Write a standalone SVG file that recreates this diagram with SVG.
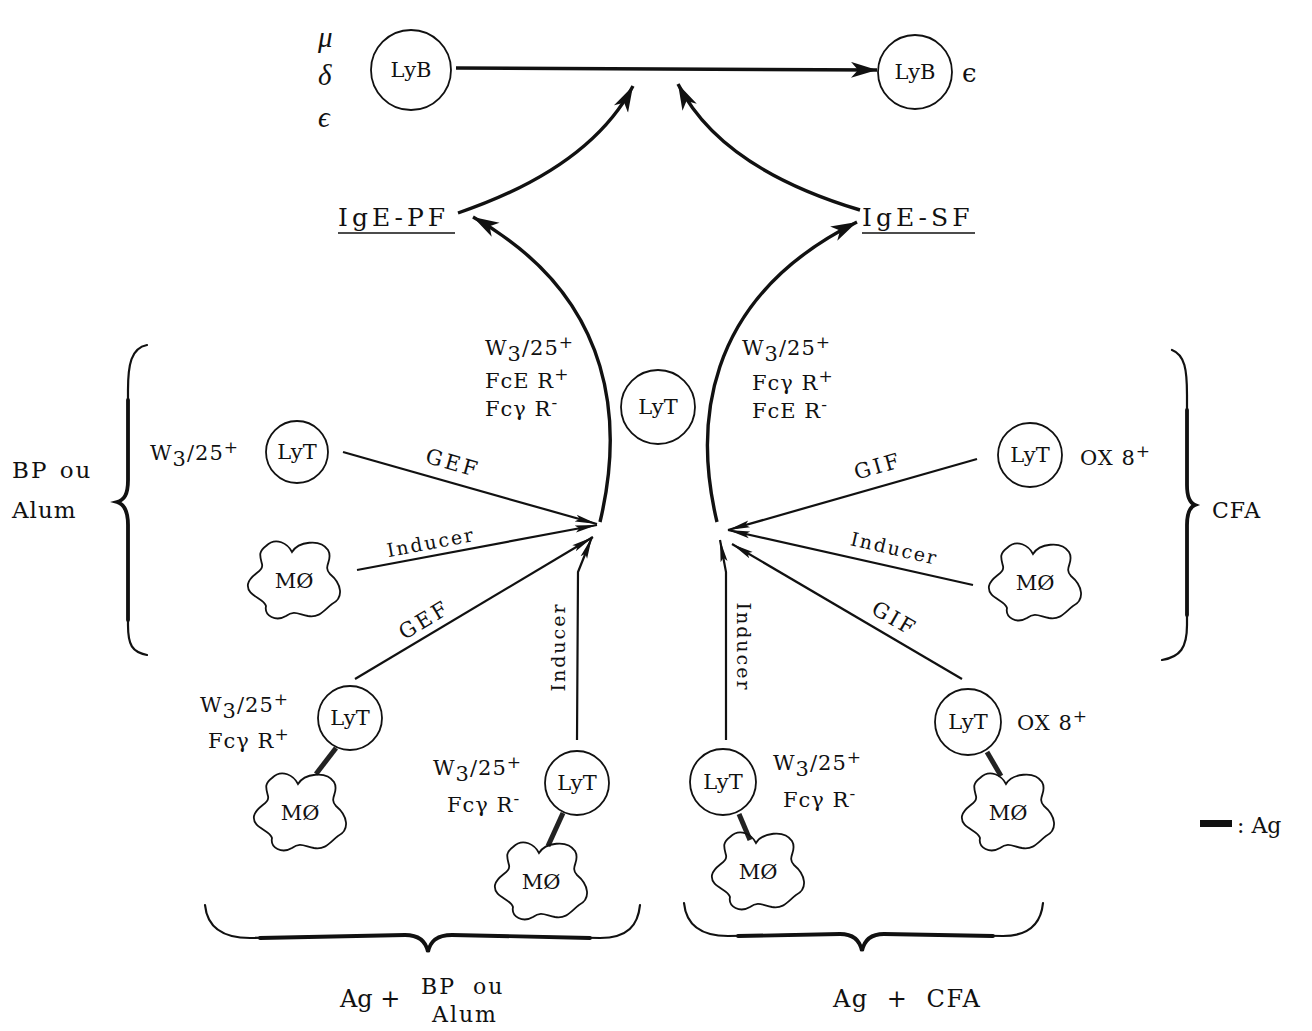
<svg xmlns="http://www.w3.org/2000/svg" width="1312" height="1031" viewBox="0 0 1312 1031">
  <style>
    text { font-family: "DejaVu Serif", "Liberation Serif", serif; fill: #111; }
    .cell { fill: none; stroke: #111; stroke-width: 1.8; }
    .blob { fill: none; stroke: #111; stroke-width: 1.8; }
    .lbl { font-size: 21px; text-anchor: middle; }
    .in { font-size: 19px; letter-spacing: 2px; text-anchor: middle; }
    .fx { font-size: 21px; letter-spacing: 3px; text-anchor: middle; }
    .mark { font-size: 21px; letter-spacing: 1px; }
    .greek { font-size: 29px; font-style: italic; font-family: "Liberation Serif", "DejaVu Serif", serif; }
    .line { fill: none; stroke: #111; stroke-width: 2.2; }
    .heavy { fill: none; stroke: #111; stroke-width: 3.4; }
    .brace { fill: none; stroke: #111; stroke-width: 2.2; stroke-linecap: round; }
    .brace-mid { fill: none; stroke: #111; stroke-width: 3.8; stroke-linecap: round; }
    .ag { stroke: #222; stroke-width: 5; stroke-linecap: butt; }
  </style>
  <defs>
    <marker id="head" markerUnits="userSpaceOnUse" markerWidth="30" markerHeight="18" refX="26" refY="8" orient="auto">
      <path d="M0,0 L26,8 L0,16 L7,8 z" fill="#111"/>
    </marker>
    <marker id="tip" markerUnits="userSpaceOnUse" markerWidth="24" markerHeight="10" refX="22" refY="4.5" orient="auto">
      <path d="M0,1 L22,4.5 L0,8 L4,4.5 z" fill="#111"/>
    </marker>
    <path id="mo" d="M -28,-34 C -18,-44 -6,-36 -2,-28 C 4,-38 26,-42 34,-30 C 40,-20 28,-14 36,-6 C 48,4 50,18 38,24 C 30,30 26,38 14,36 C 4,34 0,30 -8,36 C -18,42 -30,36 -28,26 C -30,18 -48,16 -46,4 C -44,-6 -30,-8 -32,-16 C -34,-24 -36,-28 -28,-34 Z"/>
  </defs>

  <!-- connectors -->
  <g id="connectors">
    <!-- LyB switch -->
    <path class="heavy" d="M 456 68 L 877 70" stroke-width="3" marker-end="url(#head)"/>
    <!-- factors acting on the switch -->
    <path class="heavy" d="M 458 213 Q 590 168 633 86" marker-end="url(#head)"/>
    <path class="heavy" d="M 860 210 Q 720 168 678 84" marker-end="url(#head)"/>
    <!-- central LyT producing IgE-PF / IgE-SF -->
    <path class="heavy" d="M 600 522 C 622 430 620 300 473 217" marker-end="url(#head)"/>
    <path class="heavy" d="M 717 522 C 695 430 700 300 857 222" marker-end="url(#head)"/>
    <!-- left inputs -->
    <path class="line" d="M 343 452 L 597 524" marker-end="url(#tip)"/>
    <path class="line" d="M 357 570 L 597 525" marker-end="url(#tip)"/>
    <path class="line" d="M 355 679 L 593 537" marker-end="url(#tip)"/>
    <path class="line" d="M 577 740 L 578 572 L 592 537" marker-end="url(#tip)"/>
    <!-- right inputs -->
    <path class="line" d="M 977 459 L 728 530" marker-end="url(#tip)"/>
    <path class="line" d="M 973 585 L 728 530" marker-end="url(#tip)"/>
    <path class="line" d="M 962 679 L 732 544" marker-end="url(#tip)"/>
    <path class="line" d="M 726 740 L 726 572 L 720 540" marker-end="url(#tip)"/>
    <!-- antigen bridges LyT–MØ -->
    <line class="ag" x1="336" y1="748" x2="316" y2="774"/>
    <line class="ag" x1="563" y1="813" x2="548" y2="846"/>
    <line class="ag" x1="739" y1="814" x2="750" y2="840"/>
    <line class="ag" x1="987" y1="752" x2="1001" y2="776"/>
  </g>

  <!-- connector labels -->
  <g id="connector-labels">
    <text class="fx" transform="translate(451,470) rotate(16)">GEF</text>
    <text class="in" transform="translate(432,549) rotate(-10.6)">Inducer</text>
    <text class="fx" transform="translate(428,626) rotate(-31)">GEF</text>
    <text class="in" transform="translate(565,647) rotate(-90)">Inducer</text>
    <text class="fx" transform="translate(880,473) rotate(-16)">GIF</text>
    <text class="in" transform="translate(893,555) rotate(13)">Inducer</text>
    <text class="fx" transform="translate(891,625) rotate(30)">GIF</text>
    <text class="in" transform="translate(737,647) rotate(90)">Inducer</text>
  </g>

  <!-- B cells -->
  <g id="lyb-left">
    <circle class="cell" cx="411" cy="70" r="40"/>
    <text class="lbl" x="411" y="77">LyB</text>
    <text class="greek" x="318" y="47">μ</text>
    <text class="greek" x="318" y="85">δ</text>
    <text class="greek" x="318" y="127">ϵ</text>
  </g>
  <g id="lyb-right">
    <circle class="cell" cx="915" cy="72" r="37"/>
    <text class="lbl" x="915" y="79">LyB</text>
    <text font-size="26" x="962" y="82" font-family="Liberation Serif, serif">ϵ</text>
  </g>

  <!-- factors -->
  <g id="ige-pf">
    <text font-size="25" x="338" y="226" letter-spacing="4">IgE-PF</text>
    <line x1="338" y1="233" x2="455" y2="233" stroke="#111" stroke-width="1.6"/>
  </g>
  <g id="ige-sf">
    <text font-size="25" x="862" y="226" letter-spacing="4">IgE-SF</text>
    <line x1="862" y1="233" x2="975" y2="233" stroke="#111" stroke-width="1.6"/>
  </g>

  <!-- central T cell -->
  <g id="lyt-center">
    <circle class="cell" cx="658" cy="407" r="37"/>
    <text class="lbl" x="658" y="414">LyT</text>
    <text class="mark" x="485" y="355">W<tspan dy="6">3</tspan><tspan dy="-6">/25</tspan><tspan dy="-7" font-size="17">+</tspan></text>
    <text class="mark" x="485" y="388">FcE  R<tspan dy="-8" font-size="17">+</tspan></text>
    <text class="mark" x="485" y="416">Fcγ R<tspan dy="-8" font-size="17">-</tspan></text>
    <text class="mark" x="742" y="355">W<tspan dy="6">3</tspan><tspan dy="-6">/25</tspan><tspan dy="-7" font-size="17">+</tspan></text>
    <text class="mark" x="752" y="390">Fcγ R<tspan dy="-8" font-size="17">+</tspan></text>
    <text class="mark" x="752" y="418">FcE R<tspan dy="-8" font-size="17">-</tspan></text>
  </g>

  <!-- left group: BP ou Alum -->
  <g id="lyt-l1">
    <circle class="cell" cx="297" cy="452" r="31"/>
    <text class="lbl" x="297" y="459">LyT</text>
    <text class="mark" x="150" y="460">W<tspan dy="6">3</tspan><tspan dy="-6">/25</tspan><tspan dy="-7" font-size="17">+</tspan></text>
  </g>
  <g id="mo-l1">
    <use href="#mo" class="blob" transform="translate(294,580)"/>
    <text class="lbl" x="294" y="588" font-size="22">MØ</text>
  </g>
  <g id="lyt-l2">
    <circle class="cell" cx="350" cy="718" r="32"/>
    <text class="lbl" x="350" y="725">LyT</text>
    <text class="mark" x="200" y="712">W<tspan dy="6">3</tspan><tspan dy="-6">/25</tspan><tspan dy="-7" font-size="17">+</tspan></text>
    <text class="mark" x="208" y="748">Fcγ R<tspan dy="-8" font-size="17">+</tspan></text>
  </g>
  <g id="mo-l2">
    <use href="#mo" class="blob" transform="translate(300,812)"/>
    <text class="lbl" x="300" y="820" font-size="22">MØ</text>
  </g>
  <g id="lyt-l3">
    <circle class="cell" cx="577" cy="783" r="32"/>
    <text class="lbl" x="577" y="790">LyT</text>
    <text class="mark" x="433" y="775">W<tspan dy="6">3</tspan><tspan dy="-6">/25</tspan><tspan dy="-7" font-size="17">+</tspan></text>
    <text class="mark" x="447" y="812">Fcγ R<tspan dy="-8" font-size="17">-</tspan></text>
  </g>
  <g id="mo-l3">
    <use href="#mo" class="blob" transform="translate(541,881)"/>
    <text class="lbl" x="541" y="889" font-size="22">MØ</text>
  </g>

  <!-- right group: CFA -->
  <g id="lyt-r1">
    <circle class="cell" cx="1030" cy="455" r="32"/>
    <text class="lbl" x="1030" y="462">LyT</text>
    <text class="mark" x="1080" y="465">OX  8<tspan dy="-8" font-size="17">+</tspan></text>
  </g>
  <g id="mo-r1">
    <use href="#mo" class="blob" transform="translate(1035,582)"/>
    <text class="lbl" x="1035" y="590" font-size="22">MØ</text>
  </g>
  <g id="lyt-r2">
    <circle class="cell" cx="968" cy="722" r="33"/>
    <text class="lbl" x="968" y="729">LyT</text>
    <text class="mark" x="1017" y="730">OX  8<tspan dy="-8" font-size="17">+</tspan></text>
  </g>
  <g id="mo-r2">
    <use href="#mo" class="blob" transform="translate(1008,812)"/>
    <text class="lbl" x="1008" y="820" font-size="22">MØ</text>
  </g>
  <g id="lyt-r3">
    <circle class="cell" cx="723" cy="782" r="33"/>
    <text class="lbl" x="723" y="789">LyT</text>
    <text class="mark" x="773" y="770">W<tspan dy="6">3</tspan><tspan dy="-6">/25</tspan><tspan dy="-7" font-size="17">+</tspan></text>
    <text class="mark" x="783" y="807">Fcγ R<tspan dy="-8" font-size="17">-</tspan></text>
  </g>
  <g id="mo-r3">
    <use href="#mo" class="blob" transform="translate(758,871)"/>
    <text class="lbl" x="758" y="879" font-size="22">MØ</text>
  </g>

  <!-- grouping braces -->
  <g id="brace-left">
    <path class="brace" d="M 147 345 C 131 348 128 365 128 390 L 128 480 C 128 495 124 500 117 502 C 124 504 128 510 128 525 L 128 625 C 128 645 132 652 147 655"/>
    <path class="brace-mid" d="M 128 400 L 128 480 C 128 495 124 500 117 502 C 124 504 128 510 128 525 L 128 620"/>
    <text font-size="23" x="12" y="478" letter-spacing="2" word-spacing="2">BP ou</text>
    <text font-size="23" x="12" y="518" letter-spacing="1">Alum</text>
  </g>
  <g id="brace-right">
    <path class="brace" d="M 1172 350 C 1185 355 1187 370 1187 395 L 1187 485 C 1187 498 1190 503 1195 505 C 1190 507 1187 512 1187 525 L 1187 625 C 1187 648 1180 657 1162 660"/>
    <path class="brace-mid" d="M 1187 410 L 1187 485 C 1187 498 1190 503 1195 505 C 1190 507 1187 512 1187 525 L 1187 615"/>
    <text font-size="22" x="1212" y="518" letter-spacing="1">CFA</text>
  </g>
  <g id="brace-bottom-left">
    <path class="brace" d="M 205 905 C 207 925 220 938 250 938 L 405 935 C 420 935 426 942 428 952 C 430 942 436 935 452 935 L 600 938 C 628 938 638 925 640 905"/>
    <path class="brace-mid" d="M 260 938 L 405 935 C 420 935 426 942 428 952 C 430 942 436 935 452 935 L 590 938"/>
    <text font-size="24" x="340" y="1007">Ag +</text>
    <text font-size="22" x="421" y="994" letter-spacing="2" word-spacing="8">BP ou</text>
    <text font-size="22" x="432" y="1022" letter-spacing="2">Alum</text>
  </g>
  <g id="brace-bottom-right">
    <path class="brace" d="M 684 903 C 686 923 698 936 728 936 L 840 934 C 854 934 860 941 862 951 C 864 941 870 934 884 934 L 1003 936 C 1030 936 1041 923 1043 903"/>
    <path class="brace-mid" d="M 738 936 L 840 934 C 854 934 860 941 862 951 C 864 941 870 934 884 934 L 993 936"/>
    <text font-size="24" x="833" y="1007" letter-spacing="1.5" word-spacing="9">Ag + CFA</text>
  </g>

  <!-- legend -->
  <g id="legend">
    <rect x="1200" y="820" width="32" height="7" fill="#111"/>
    <text font-size="22" x="1237" y="833">: Ag</text>
  </g>
</svg>
